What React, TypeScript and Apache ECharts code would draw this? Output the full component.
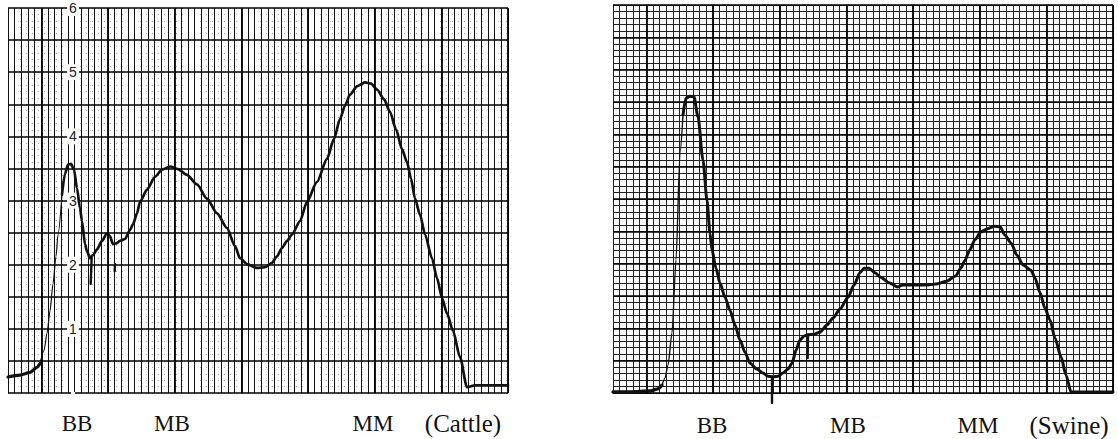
import React, { useEffect, useRef } from "react";
import * as echarts from "echarts";

// ---- data ----
const yTickValues = [0, 1, 2, 3, 4, 5, 6];
const majorX = [0, 1, 2, 3, 4, 5, 6, 7];

const cattleStart = [[-0.5, 0.25], [-0.32, 0.28], [-0.17, 0.32], [-0.065, 0.4], [-0.02, 0.46]];
const cattleRise = [[-0.02, 0.46], [0.04, 0.66], [0.085, 0.93], [0.13, 1.28], [0.175, 1.7], [0.22, 2.13], [0.25, 2.47], [0.31, 3.09]];
const cattleRest = [
  [0.31, 3.09], [0.355, 3.42], [0.4, 3.56], [0.445, 3.57], [0.49, 3.48], [0.535, 3.19], [0.58, 2.88], [0.61, 2.68],
  [0.655, 2.32], [0.685, 2.21], [0.73, 2.1], [0.775, 2.15], [0.835, 2.24], [0.91, 2.37], [0.985, 2.49], [1.03, 2.44],
  [1.075, 2.32], [1.12, 2.33], [1.18, 2.37], [1.255, 2.4], [1.33, 2.54], [1.375, 2.63], [1.435, 2.8], [1.48, 2.98],
  [1.585, 3.17], [1.705, 3.37], [1.81, 3.48], [1.93, 3.53], [2.05, 3.49], [2.185, 3.4], [2.335, 3.25], [2.485, 3.03],
  [2.635, 2.8], [2.785, 2.57], [2.905, 2.29], [2.98, 2.1], [3.085, 2.01], [3.235, 1.95], [3.355, 1.96], [3.46, 2.03],
  [3.535, 2.13], [3.61, 2.26], [3.685, 2.37], [3.76, 2.47], [3.88, 2.68], [3.985, 2.98], [4.135, 3.29], [4.285, 3.65],
  [4.39, 3.96], [4.48, 4.27], [4.555, 4.48], [4.63, 4.65], [4.735, 4.78], [4.855, 4.84], [4.945, 4.82], [5.035, 4.73],
  [5.14, 4.58], [5.23, 4.38], [5.32, 4.11], [5.41, 3.8], [5.485, 3.6], [5.545, 3.34], [5.605, 3.03], [5.68, 2.78],
  [5.755, 2.47], [5.86, 2.1], [5.935, 1.79], [6.01, 1.48], [6.085, 1.24], [6.175, 0.97], [6.28, 0.56], [6.385, 0.09],
  [6.505, 0.12], [6.73, 0.12], [7.0, 0.12],
];
const cattleMarks = [
  [[0.755, 2.1], [0.74, 1.7]],
  [[1.105, 2.01], [1.1, 1.9]],
];

const swineStart = [[-0.5, 0.015], [-0.245, 0.015], [0.055, 0.03], [0.16, 0.06], [0.235, 0.12]];
const swineRise = [[0.235, 0.12], [0.28, 0.23], [0.325, 0.43], [0.385, 0.93], [0.445, 2.06], [0.505, 3.71], [0.55, 4.3]];
const swineRest = [
  [0.55, 4.3], [0.595, 4.56], [0.655, 4.59], [0.715, 4.58], [0.775, 4.27], [0.85, 3.6], [0.91, 2.98], [0.955, 2.47],
  [0.985, 2.21], [1.045, 1.93], [1.105, 1.7], [1.18, 1.48], [1.255, 1.28], [1.33, 1.05], [1.405, 0.82], [1.48, 0.63],
  [1.555, 0.46], [1.66, 0.37], [1.75, 0.31], [1.825, 0.26], [1.9, 0.25], [1.975, 0.26], [2.05, 0.31], [2.125, 0.37],
  [2.185, 0.46], [2.245, 0.66], [2.305, 0.82], [2.365, 0.88], [2.425, 0.9], [2.515, 0.91], [2.605, 0.94], [2.71, 1.05],
  [2.8, 1.16], [2.905, 1.3], [3.025, 1.48], [3.115, 1.67], [3.205, 1.86], [3.265, 1.93], [3.34, 1.93], [3.43, 1.86],
  [3.515, 1.79], [3.65, 1.7], [3.77, 1.64], [3.845, 1.67], [4.025, 1.67], [4.22, 1.67], [4.37, 1.69], [4.505, 1.73],
  [4.64, 1.81], [4.715, 1.93], [4.775, 2.04], [4.85, 2.21], [4.93, 2.37], [5.015, 2.49], [5.12, 2.54], [5.225, 2.58],
  [5.305, 2.57], [5.38, 2.44], [5.47, 2.32], [5.56, 2.13], [5.65, 1.98], [5.77, 1.9], [5.83, 1.78], [5.905, 1.55],
  [5.98, 1.31], [6.055, 1.13], [6.13, 0.85], [6.22, 0.56], [6.295, 0.28], [6.37, 0.015], [6.655, 0.015], [7.0, 0.015],
];
const swineMarks = [
  [[1.885, 0.25], [1.885, -0.15]],
  [[2.425, 0.9], [2.42, 0.54]],
];

const leftLabels = ["BB", "MB", "MM", "(Cattle)"];
const rightLabels = ["BB", "MB", "MM", "(Swine)"];

// ---- chart ----
const INK = "#111";

function hiddenAxisBase() {
  return {
    type: "value",
    axisLine: { show: false },
    axisTick: { show: false },
    axisLabel: { show: false },
  };
}

function curve(data: number[][], xi: number, yi: number, width: number, extra: any = {}) {
  return {
    type: "line",
    xAxisIndex: xi,
    yAxisIndex: yi,
    data,
    symbol: "none",
    showSymbol: false,
    smooth: 0.25,
    smoothMonotone: "x",
    silent: true,
    z: 4,
    lineStyle: { color: INK, width, cap: "round", join: "round" },
    ...extra,
  };
}

function marks(list: number[][][], xi: number, yi: number) {
  return list.map((seg) => ({
    type: "line",
    xAxisIndex: xi,
    yAxisIndex: yi,
    data: seg,
    symbol: "none",
    silent: true,
    clip: false,
    z: 4,
    lineStyle: { color: INK, width: 2.4, cap: "round" },
  }));
}

function majorLines() {
  return {
    silent: true,
    symbol: ["none", "none"],
    label: { show: false },
    emphasis: { disabled: true },
    lineStyle: { color: "#000", width: 1.8, type: "solid" },
    data: majorX.map((v) => ({ xAxis: v })),
  };
}

const option: any = {
  animation: false,
  grid: [
    { left: 8, top: 5, width: 500, height: 388 },
    { left: 613, top: 5, width: 500, height: 388 },
  ],
  xAxis: [
    {
      ...hiddenAxisBase(), gridIndex: 0, position: "bottom", min: -0.5, max: 7, interval: 0.1, z: 0,
      splitLine: { show: true, lineStyle: { color: "#111", width: 1 } },
    },
    {
      ...hiddenAxisBase(), gridIndex: 1, position: "bottom", min: -0.5, max: 7, interval: 0.1, z: 0,
      splitLine: { show: true, lineStyle: { color: "#222", width: 1 } },
    },
  ],
  yAxis: [
    {
      ...hiddenAxisBase(), gridIndex: 0, position: "left", min: 0, max: 6, interval: 0.5, z: 1,
      splitLine: { show: true, lineStyle: { color: "#000", width: 1.5 } },
    },
    {
      type: "value", gridIndex: 0, position: "left", min: 0, max: 6, interval: 1, offset: -65, z: 3,
      axisLine: { show: false }, axisTick: { show: false }, splitLine: { show: false },
      axisLabel: {
        show: true, margin: 0, align: "center", verticalAlign: "middle",
        fontFamily: "Liberation Sans", fontSize: 14, color: "#222",
        backgroundColor: "#fff", padding: [1, 2],
        formatter: (v: number) => (yTickValues.indexOf(v) > 0 ? String(v) : ""),
      },
    },
    {
      ...hiddenAxisBase(), gridIndex: 1, position: "left", min: 0, max: 6, interval: 0.1, z: 0,
      splitLine: { show: true, lineStyle: { color: "#222", width: 1 } },
    },
    {
      ...hiddenAxisBase(), gridIndex: 1, position: "left", min: 0, max: 6, interval: 0.5, z: 1,
      splitLine: { show: true, lineStyle: { color: "#000", width: 1.6 } },
    },
    {
      ...hiddenAxisBase(), gridIndex: 0, position: "left", min: 0, max: 6, interval: 0.1, z: 0,
      splitLine: { show: true, lineStyle: { color: "#999", width: 0.8, type: [1, 5] } },
    },
  ],
  series: [
    curve(cattleStart, 0, 0, 3.2, { markLine: majorLines() }),
    curve(cattleRise, 0, 0, 1.2),
    curve(cattleRest, 0, 0, 2.7),
    ...marks(cattleMarks, 0, 0),
    curve(swineStart, 1, 3, 3.4, { markLine: majorLines() }),
    curve(swineRise, 1, 3, 1.4),
    curve(swineRest, 1, 3, 3.0),
    ...marks(swineMarks, 1, 3),
  ],
  graphic: [
    ...leftLabels.map((t, i) => ({
      type: "text",
      x: [77, 172, 373, 463][i],
      y: 423,
      style: {
        text: t, fill: INK, align: "center", verticalAlign: "middle",
        font: `${i === 3 ? 25 : 23}px "Liberation Serif"`,
      },
    })),
    ...rightLabels.map((t, i) => ({
      type: "text",
      x: [712, 848, 978, 1069][i],
      y: 425,
      style: {
        text: t, fill: INK, align: "center", verticalAlign: "middle",
        font: `${i === 3 ? 25 : 23}px "Liberation Serif"`,
      },
    })),
  ],
};

export default function App() {
  const ref = useRef<HTMLDivElement>(null);
  useEffect(() => {
    document.body.style.margin = "0";
    const chart = echarts.init(ref.current as HTMLDivElement, null, { renderer: "svg" });
    chart.setOption(option);
    return () => chart.dispose();
  }, []);
  return <div ref={ref} style={{ width: 1118, height: 439, background: "#fff" }} />;
}
